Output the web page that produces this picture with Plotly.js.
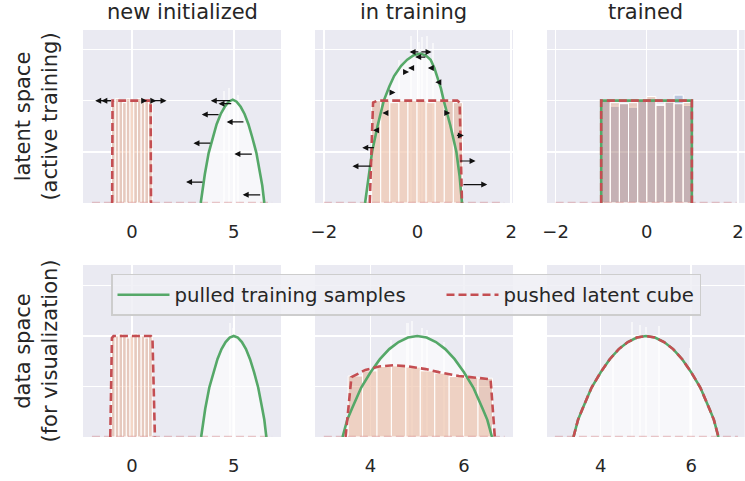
<!DOCTYPE html>
<html><head><meta charset="utf-8">
<script src="https://cdn.plot.ly/plotly-3.0.1.min.js"></script>
<style>html,body{margin:0;padding:0;background:#fff}#chart{width:745px;height:481px}</style>
</head><body><div id="chart"></div>
<script>
// ================= DATA =================
const panelTitles = ['new initialized', 'in training', 'trained'];
const rowTitles = ['latent space<br>(active training)', 'data space<br>(for visualization)'];
const legendNames = ['pulled training samples', 'pushed latent cube'];

// x tick labels per panel
const ticksP1 = [0, 5],      tickTextP1 = ['0', '5'];
const ticksP2 = [-2, 0, 2],  tickTextP2 = ['\u22122', '0', '2'];
const ticksP3 = [-2, 0, 2],  tickTextP3 = ['\u22122', '0', '2'];
const ticksP4 = [0, 5],      tickTextP4 = ['0', '5'];
const ticksP5 = [4, 6],      tickTextP5 = ['4', '6'];
const ticksP6 = [4, 6],      tickTextP6 = ['4', '6'];

// training-data density (data space, all bottom panels)
const dataBellX = [3.4, 3.5, 3.6, 3.8, 4.0, 4.2, 4.4, 4.6, 4.8, 5.0, 5.2, 5.4, 5.6, 5.8, 6.0, 6.2, 6.4, 6.5, 6.6];
const dataBellY = [0, 0.085, 0.14, 0.245, 0.32, 0.385, 0.435, 0.47, 0.492, 0.5, 0.492, 0.47, 0.435, 0.385, 0.32, 0.245, 0.14, 0.085, 0];

// pulled samples, new initialized (latent)
const greenP1X = [3.38, 3.48, 3.58, 3.77, 3.97, 4.16, 4.36, 4.56, 4.75, 4.95, 5.14, 5.34, 5.53, 5.72, 5.91, 6.11, 6.3, 6.4, 6.5];
const greenP1Y = [0, 0.085, 0.14, 0.245, 0.32, 0.385, 0.435, 0.47, 0.495, 0.505, 0.495, 0.47, 0.435, 0.385, 0.32, 0.245, 0.14, 0.085, 0];
// pulled samples, in training (latent)
const greenP2X = [-1.12, -1.05, -0.97, -0.85, -0.72, -0.6, -0.5, -0.35, -0.22, -0.08, 0.06, 0.18, 0.28, 0.36, 0.42, 0.5, 0.56, 0.7, 0.83, 0.9, 0.95];
const greenP2Y = [0, 0.12, 0.25, 0.38, 0.5, 0.57, 0.62, 0.67, 0.70, 0.722, 0.73, 0.72, 0.70, 0.66, 0.62, 0.56, 0.5, 0.38, 0.25, 0.13, 0];
// pulled samples / latent cube, trained (latent)
const cubeP3X = [-1.0, -1.0, 0.99, 0.99];
const cubeP3Y = [0, 0.5, 0.5, 0];

// pushed latent cube curves
const redP1X = [-0.97, -0.95, 0.92, 0.94];
const redP1Y = [0, 0.5, 0.5, 0];
const redP2X = [-1.02, -0.95, -0.86, 0.85, 0.90, 0.95];
const redP2Y = [0, 0.49, 0.5, 0.5, 0.49, 0];
const redP4X = [-1.06, -0.98, -0.9, 0.93, 1.01, 1.13];
const redP4Y = [0, 0.49, 0.5, 0.5, 0.49, 0];
const redP5X = [3.465, 3.59, 3.89, 4.18, 4.5, 4.82, 5.18, 5.46, 5.89, 6.32, 6.57, 6.66];
const redP5Y = [0, 0.296, 0.332, 0.349, 0.355, 0.349, 0.336, 0.321, 0.302, 0.294, 0.286, 0];

// sample range (zero baseline of the histograms)
const baseP1 = [-1.96, 6.88], baseP2 = [-2.0, 1.85], baseP3 = [-2.0, 1.97];
const baseP4 = [-1.96, 6.88], baseP5 = [3.0, 6.87], baseP6 = [2.99, 7.03];

// latent-cube histograms (bin edges + heights)
const cubeEdgesP1 = [-1.0, -0.818, -0.636, -0.455, -0.273, -0.091, 0.091, 0.273, 0.455, 0.636, 0.818, 1.0];
const cubeHistP1 = [0.5, 0.51, 0.5, 0.49, 0.51, 0.5, 0.5, 0.51, 0.49, 0.5, 0.5];
const cubeEdgesP4 = [-1.0, -0.818, -0.636, -0.455, -0.273, -0.091, 0.091, 0.273, 0.455, 0.636, 0.818, 1.0];
const cubeHistP4 = [0.5, 0.5, 0.51, 0.5, 0.49, 0.5, 0.51, 0.5, 0.5, 0.49, 0.5];
const cubeEdgesP2 = [-0.98, -0.786, -0.592, -0.398, -0.204, -0.01, 0.184, 0.378, 0.572, 0.766, 0.96];
const cubeHistP2 = [0.5, 0.5, 0.49, 0.5, 0.5, 0.5, 0.49, 0.5, 0.5, 0.49];
const cubeEdgesP3 = [-1.0, -0.8, -0.6, -0.4, -0.2, 0.0, 0.2, 0.4, 0.6, 0.8, 1.0];
const cubeHistP3 = [0.50, 0.49, 0.485, 0.49, 0.507, 0.52, 0.477, 0.493, 0.485, 0.49];
const sampHistP3 = [0.505, 0.473, 0.487, 0.468, 0.505, 0.512, 0.48, 0.495, 0.527, 0.477];
const cubeEdgesP5 = [3.52, 3.829, 4.138, 4.447, 4.756, 5.065, 5.374, 5.683, 5.992, 6.301, 6.61];
const cubeHistP5 = [0.302, 0.327, 0.349, 0.352, 0.346, 0.327, 0.316, 0.299, 0.296, 0.291];

// taller narrow sample-histogram bins poking out of the curves
const spikeP1X = [4.52, 4.75, 5.2],  spikeP1Y = [0.548, 0.564, 0.528];
const spikeP2X = [-0.40, -0.135, 0.03, 0.10, 0.21, 0.33], spikeP2Y = [0.70, 0.815, 0.787, 0.81, 0.815, 0.78];
const spikeP4X = [4.82, 4.95],  spikeP4Y = [0.565, 0.54];
const spikeP5X = [4.43, 4.79, 4.89, 5.11, 5.21, 5.57], spikeP5Y = [0.48, 0.565, 0.573, 0.54, 0.53, 0.47];
const spikeP6X = [4.27, 4.7, 4.86, 5.0, 5.29, 5.98], spikeP6Y = [0.41, 0.571, 0.554, 0.546, 0.55, 0.44];

// sample movement arrows (tail x -> head x at height y)
const arrP1Tail = [-0.95, -0.95, 0.55, 0.95, 0.95, 4.9, 4.95, 4.33, 5.55, 3.92, 5.96, 3.54, 6.37];
const arrP1Head = [-1.8, -1.5, 0.75, 1.2, 1.7, 3.87, 4.25, 3.43, 4.65, 3.02, 5.03, 2.66, 5.44];
const arrP1Y    = [0.5, 0.5, 0.5, 0.5, 0.5, 0.5, 0.485, 0.432, 0.396, 0.292, 0.239, 0.102, 0.04];
const arrP2Tail = [0.05, 0.05, 0.2, -0.05, 0.3, -0.25, 0.45, -0.55, -0.68, 0.62, -0.85, 0.81, -0.9, 0.88, -0.97, 0.95, -0.9];
const arrP2Head = [-0.17, 0.3, -0.05, -0.2, 0.22, -0.18, 0.38, -0.47, -0.75, 0.7, -0.95, 0.99, -1.18, 1.24, -1.39, 1.49, -0.95];
const arrP2Y    = [0.738, 0.738, 0.713, 0.66, 0.66, 0.64, 0.59, 0.54, 0.44, 0.44, 0.355, 0.33, 0.27, 0.205, 0.18, 0.09, 0.04];

// ================= STYLE / BUILD =================
const FONT = 'DejaVu Sans, Liberation Sans, sans-serif';
const TXT = '#262626';
const GREEN = '#55A868', RED = '#C44E52';
const ORANGE_A = 'rgba(221,132,82,0.32)', ORANGE_A3 = 'rgba(221,132,82,0.3)', BLUE_A = 'rgba(76,114,176,0.3)';
const WHITE_FILL = 'rgba(255,255,255,0.62)', WHITE_SPIKE = 'rgba(255,255,255,0.55)';
const OVERLAID = [1, 2, 4, 5, 6];   // panels with a sample fill underneath

function ax(p, l) { return p === 1 ? l : l + p; }
// secondary y axis overlaying a panel (drawn above it): histograms + curves
function ovy(p) { return OVERLAID.includes(p) ? 'y' + (p + 6) : ax(p, 'y'); }
function hist(edges, h, color, p) {
  const xs = [], ws = [];
  for (let i = 0; i < h.length; i++) { xs.push((edges[i] + edges[i + 1]) / 2); ws.push(edges[i + 1] - edges[i]); }
  return {type: 'bar', x: xs, y: h, width: ws, marker: {color: color, line: {color: '#ffffff', width: 1}},
          xaxis: ax(p, 'x'), yaxis: ovy(p), showlegend: false, hoverinfo: 'skip'};
}
function fillUnder(x, y, p) {
  return {type: 'scatter', mode: 'lines', x: x, y: y, fill: 'tozeroy', fillcolor: WHITE_FILL,
          line: {width: 0, color: 'rgba(0,0,0,0)'}, xaxis: ax(p, 'x'), yaxis: ax(p, 'y'), showlegend: false, hoverinfo: 'skip'};
}
function spikes(x, y, w, p) {
  return {type: 'bar', x: x, y: y, width: w, marker: {color: WHITE_SPIKE, line: {width: 0}},
          xaxis: ax(p, 'x'), yaxis: ax(p, 'y'), showlegend: false, hoverinfo: 'skip'};
}
function baseline(b, p) {
  return {type: 'scatter', mode: 'lines', x: b, y: [0, 0], line: {color: 'rgba(196,78,82,0.3)', width: 2.5, dash: '8px,4px'},
          xaxis: ax(p, 'x'), yaxis: ovy(p), showlegend: false, hoverinfo: 'skip'};
}
function green(x, y, p, leg) {
  const t = {type: 'scatter', mode: 'lines', x: x, y: y, line: {color: GREEN, width: 2.6},
          xaxis: ax(p, 'x'), yaxis: ovy(p), showlegend: !!leg, name: legendNames[0], hoverinfo: 'skip'};
  if (leg) t.legendwidth = 262;
  return t;
}
function red(x, y, p, leg) {
  return {type: 'scatter', mode: 'lines', x: x, y: y, line: {color: RED, width: 2.6, dash: '8px,4px'},
          xaxis: ax(p, 'x'), yaxis: ovy(p), showlegend: !!leg, name: legendNames[1], hoverinfo: 'skip'};
}

const traces = [
  // P1
  fillUnder(greenP1X, greenP1Y, 1), spikes(spikeP1X, spikeP1Y, 0.1, 1), hist(cubeEdgesP1, cubeHistP1, ORANGE_A, 1),
  baseline(baseP1, 1), green(greenP1X, greenP1Y, 1), red(redP1X, redP1Y, 1),
  // P2
  fillUnder(greenP2X, greenP2Y, 2), spikes(spikeP2X, spikeP2Y, 0.045, 2), hist(cubeEdgesP2, cubeHistP2, ORANGE_A, 2),
  baseline(baseP2, 2), green(greenP2X, greenP2Y, 2), red(redP2X, redP2Y, 2),
  // P3
  hist(cubeEdgesP3, sampHistP3, BLUE_A, 3), hist(cubeEdgesP3, cubeHistP3, ORANGE_A3, 3),
  baseline(baseP3, 3), green(cubeP3X, cubeP3Y, 3), red(cubeP3X, cubeP3Y, 3),
  // P4
  fillUnder(dataBellX, dataBellY, 4), spikes(spikeP4X, spikeP4Y, 0.1, 4), hist(cubeEdgesP4, cubeHistP4, ORANGE_A, 4),
  baseline(baseP4, 4), green(dataBellX, dataBellY, 4), red(redP4X, redP4Y, 4),
  // P5
  fillUnder(dataBellX, dataBellY, 5), spikes(spikeP5X, spikeP5Y, 0.045, 5), hist(cubeEdgesP5, cubeHistP5, ORANGE_A, 5),
  baseline(baseP5, 5), green(dataBellX, dataBellY, 5, true), red(redP5X, redP5Y, 5, true),
  // P6
  fillUnder(dataBellX, dataBellY, 6), spikes(spikeP6X, spikeP6Y, 0.045, 6),
  baseline(baseP6, 6), green(dataBellX, dataBellY, 6), red(dataBellX, dataBellY, 6)
];

const xDom = [[0.1114, 0.3772], [0.4228, 0.6886], [0.7342, 0.9996]];
const yDomTop = [0.578, 0.9376], yDomBot = [0.0915, 0.449];
const xRanges = [[-2.4, 7.32], [-2.19, 2.04], [-2.19, 2.15], [-2.4, 7.32], [2.81, 7.05], [2.815, 7.18]];
const yRangeTop = [0, 0.845], yRangeBot = [0, 0.851];
const tv = [ticksP1, ticksP2, ticksP3, ticksP4, ticksP5, ticksP6];
const tt = [tickTextP1, tickTextP2, tickTextP3, tickTextP4, tickTextP5, tickTextP6];

const layout = {
  width: 745, height: 481, margin: {l: 0, r: 0, t: 0, b: 0},
  paper_bgcolor: '#ffffff', plot_bgcolor: '#EAEAF2',
  font: {family: FONT, color: TXT},
  barmode: 'overlay', bargap: 0,
  showlegend: true,
  legend: {orientation: 'h', x: 0.149, y: 0.4304, xanchor: 'left', yanchor: 'top',
           bgcolor: 'rgba(238,238,244,0.85)', bordercolor: '#cdcdcd', borderwidth: 1.5,
           font: {size: 19.7, color: TXT, family: FONT}, itemwidth: 52, traceorder: 'normal'},
  annotations: []
};

for (let p = 1; p <= 6; p++) {
  const col = (p - 1) % 3, top = p <= 3;
  layout[ax(p, 'xaxis')] = {
    domain: xDom[col], range: xRanges[p - 1], anchor: ax(p, 'y'),
    tickvals: tv[p - 1], ticktext: tt[p - 1], ticks: 'outside', ticklen: 12, tickcolor: 'rgba(0,0,0,0)',
    tickfont: {size: 18, color: TXT, family: FONT},
    showgrid: true, gridcolor: '#ffffff', gridwidth: 1.5, zeroline: false, showline: false, fixedrange: true
  };
  const ya = {
    domain: top ? yDomTop : yDomBot, range: top ? yRangeTop : yRangeBot, anchor: ax(p, 'x'),
    tickvals: [0, 0.25, 0.5, 0.75], showticklabels: false, ticks: '',
    showgrid: true, gridcolor: '#ffffff', gridwidth: 1.5, zeroline: false, showline: false, fixedrange: true, automargin: false
  };
  if (col === 0) ya.title = {text: rowTitles[top ? 0 : 1], font: {size: 21, color: TXT, family: FONT}, standoff: 18};
  layout[ax(p, 'yaxis')] = ya;
  if (OVERLAID.includes(p)) {
    layout['yaxis' + (p + 6)] = {overlaying: ax(p, 'y'), anchor: ax(p, 'x'), range: top ? yRangeTop : yRangeBot,
      visible: false, showgrid: false, zeroline: false, showticklabels: false, fixedrange: true};
  }
}

panelTitles.forEach((t, i) => {
  layout.annotations.push({text: t, xref: 'paper', yref: 'paper', x: (xDom[i][0] + xDom[i][1]) / 2, y: 0.975,
    xanchor: 'center', yanchor: 'middle', showarrow: false, font: {size: 21, color: TXT, family: FONT}});
});

function addArrows(tails, heads, ys, p) {
  for (let i = 0; i < tails.length; i++) {
    layout.annotations.push({xref: ax(p, 'x'), yref: ax(p, 'y'), axref: ax(p, 'x'), ayref: ax(p, 'y'),
      x: heads[i], y: ys[i], ax: tails[i], ay: ys[i], text: '', showarrow: true,
      arrowhead: 2, arrowsize: 1, arrowwidth: 1.2, arrowcolor: '#111111', standoff: 0, startstandoff: 0});
  }
}
addArrows(arrP1Tail, arrP1Head, arrP1Y, 1);
addArrows(arrP2Tail, arrP2Head, arrP2Y, 2);

Plotly.newPlot('chart', traces, layout, {displayModeBar: false, staticPlot: true});
</script></body></html>
